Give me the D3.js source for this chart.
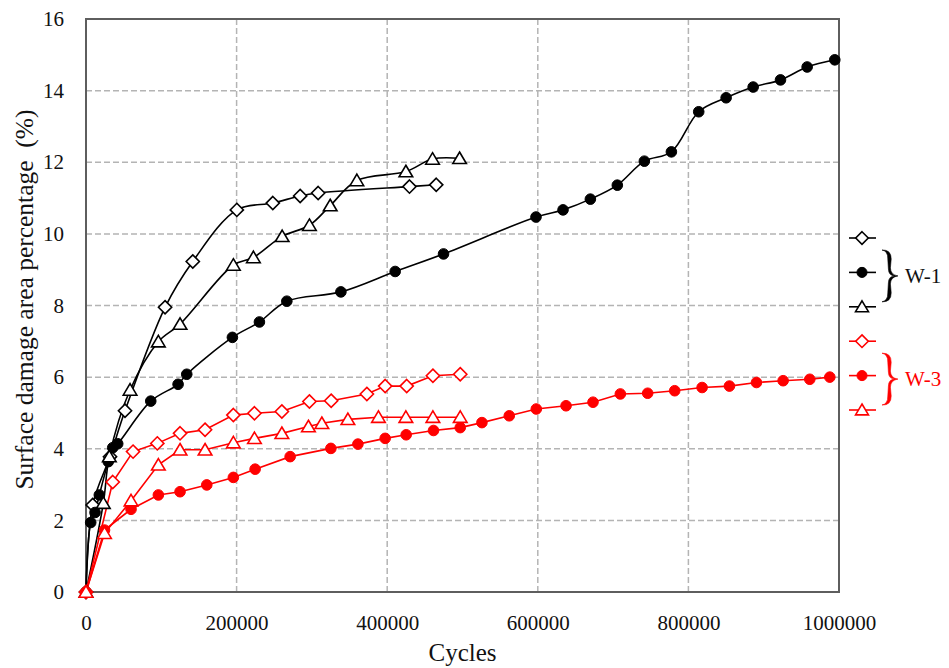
<!DOCTYPE html>
<html><head><meta charset="utf-8">
<script src="https://cdn.jsdelivr.net/npm/d3@7"></script>
<style>body{margin:0;background:#fff}</style>
</head><body><svg id="c" width="949" height="668"></svg>
<script>
// ---- data ----
const xTicks = [0, 200000, 400000, 600000, 800000, 1000000];
const yTicks = [0, 2, 4, 6, 8, 10, 12, 14, 16];
const xTitle = "Cycles";
const yTitle = "Surface damage area percentage  (%)";
const groupLabels = ["W-1", "W-3"];

const w1DiamondCycles = [0, 8900, 31900, 51800, 105000, 141800, 200300, 248100, 284400, 308300, 429600, 465100];
const w1DiamondDamage = [0, 2.43, 3.78, 5.06, 7.95, 9.23, 10.67, 10.86, 11.06, 11.14, 11.32, 11.37];

const w1CircleCycles = [0, 6250, 12000, 17700, 29600, 35500, 42100, 86000, 122300, 133800, 194400, 230300, 266700, 338500, 410600, 474800, 597600, 633500, 669800, 705600, 741500, 777400, 813700, 850100, 886000, 922300, 957700, 994400];
const w1CircleDamage = [0, 1.94, 2.22, 2.71, 3.64, 4.03, 4.14, 5.33, 5.80, 6.08, 7.11, 7.54, 8.12, 8.38, 8.95, 9.44, 10.47, 10.67, 10.97, 11.36, 12.03, 12.29, 13.41, 13.80, 14.10, 14.30, 14.66, 14.86];

const w1TriangleCycles = [0, 23000, 31000, 58500, 96100, 124900, 195700, 222300, 260500, 296700, 324300, 359700, 424800, 460200, 496100];
const w1TriangleDamage = [0, 2.48, 3.78, 5.64, 6.99, 7.48, 9.13, 9.34, 9.93, 10.24, 10.79, 11.49, 11.74, 12.09, 12.11];

const w3DiamondCycles = [0, 35500, 62500, 94700, 124900, 158100, 195700, 223700, 260100, 296700, 325600, 373000, 397300, 425900, 460700, 497000];
const w3DiamondDamage = [0, 3.07, 3.92, 4.15, 4.43, 4.53, 4.94, 4.99, 5.04, 5.32, 5.34, 5.53, 5.75, 5.75, 6.04, 6.08];

const w3CircleCycles = [0, 24600, 59800, 96100, 124900, 160400, 195700, 224600, 271100, 325200, 361100, 397300, 425200, 461500, 497000, 525800, 562100, 598000, 637500, 673300, 709600, 745900, 781800, 818200, 854500, 890400, 925800, 961200, 987800];
const w3CircleDamage = [0, 1.73, 2.31, 2.71, 2.80, 2.99, 3.20, 3.43, 3.78, 4.01, 4.13, 4.29, 4.39, 4.51, 4.59, 4.73, 4.92, 5.11, 5.20, 5.30, 5.53, 5.55, 5.62, 5.71, 5.75, 5.85, 5.90, 5.94, 6.00];

const w3TriangleCycles = [0, 24600, 59800, 96100, 124900, 158100, 195700, 223700, 260100, 295400, 313200, 347800, 388400, 424800, 460700, 497000];
const w3TriangleDamage = [0, 1.64, 2.55, 3.55, 3.97, 3.97, 4.17, 4.29, 4.43, 4.62, 4.71, 4.82, 4.88, 4.88, 4.88, 4.88];

const series = [
  {group: 0, marker: "diamond",  color: "#000000", xs: w1DiamondCycles,  ys: w1DiamondDamage},
  {group: 0, marker: "circle",   color: "#000000", xs: w1CircleCycles,   ys: w1CircleDamage},
  {group: 0, marker: "triangle", color: "#000000", xs: w1TriangleCycles, ys: w1TriangleDamage},
  {group: 1, marker: "diamond",  color: "#ff0000", xs: w3DiamondCycles,  ys: w3DiamondDamage},
  {group: 1, marker: "circle",   color: "#ff0000", xs: w3CircleCycles,   ys: w3CircleDamage},
  {group: 1, marker: "triangle", color: "#ff0000", xs: w3TriangleCycles, ys: w3TriangleDamage}
];
const groupColors = ["#000000", "#ff0000"];

// ---- layout ----
const FONT = "'Liberation Serif', 'Times New Roman', serif";
const svg = d3.select("#c");
const L = 86, R = 839, T = 19, B = 592;
const x = d3.scaleLinear().domain([0, 1000000]).range([L, R]);
const y = d3.scaleLinear().domain([0, 16]).range([B, T]);

svg.append("rect").attr("width", 949).attr("height", 668).attr("fill", "#fff");

// grid
const grid = svg.append("g").attr("stroke", "#b4b4b4").attr("stroke-width", 1.5).attr("stroke-dasharray", "6,3");
grid.selectAll(".h").data(yTicks.filter(v => v > 0 && v < 16)).join("line")
  .attr("x1", L).attr("x2", R).attr("y1", d => y(d)).attr("y2", d => y(d));
grid.selectAll(".v").data(xTicks.filter(v => v > 0 && v < 1000000)).join("line")
  .attr("y1", T).attr("y2", B).attr("x1", d => x(d)).attr("x2", d => x(d));

// axes
const ax = svg.append("g").attr("transform", `translate(${L},0)`)
  .call(d3.axisLeft(y).tickValues(yTicks).tickSize(0).tickPadding(22).tickFormat(d3.format("d")));
const bx = svg.append("g").attr("transform", `translate(0,${B})`)
  .call(d3.axisBottom(x).tickValues(xTicks).tickSize(0).tickPadding(23).tickFormat(d3.format("d")));
[ax, bx].forEach(g => {
  g.select(".domain").remove();
  g.selectAll("text").attr("font-family", FONT).attr("font-size", 21).attr("fill", "#111");
});

// frame
svg.append("rect").attr("x", L).attr("y", T).attr("width", R - L).attr("height", B - T)
  .attr("fill", "none").attr("stroke", "#5e5e5e").attr("stroke-width", 2);

// titles
svg.append("text").attr("x", (L + R) / 2).attr("y", 661).attr("text-anchor", "middle")
  .attr("font-family", FONT).attr("font-size", 25).attr("fill", "#111").text(xTitle);
svg.append("text").attr("transform", `translate(33,${(T + B) / 2 - 6}) rotate(-90)`).attr("text-anchor", "middle")
  .attr("font-family", FONT).attr("font-size", 25.5).attr("fill", "#111").attr("xml:space", "preserve")
  .style("white-space", "pre").text(yTitle);

// markers
function drawMarker(g, type, cx, cy, color, s) {
  if (type === "circle") {
    g.append("circle").attr("cx", cx).attr("cy", cy).attr("r", 5.3 * s).attr("fill", color).attr("stroke", color).attr("stroke-width", 1);
  } else if (type === "diamond") {
    const r = 6.6 * s;
    g.append("path").attr("d", `M${cx},${cy - r}L${cx + r},${cy}L${cx},${cy + r}L${cx - r},${cy}Z`)
      .attr("fill", "#fff").attr("stroke", color).attr("stroke-width", 1.6);
  } else {
    const w = 6.8 * s, h = 11.5 * s;
    g.append("path").attr("d", `M${cx},${cy - h * 0.55}L${cx + w},${cy + h * 0.45}L${cx - w},${cy + h * 0.45}Z`)
      .attr("fill", "#fff").attr("stroke", color).attr("stroke-width", 1.6);
  }
}

const plot = svg.append("g");
series.forEach(s => {
  const pts = s.xs.map((v, i) => [v, s.ys[i]]);
  const line = d3.line().x(d => x(d[0])).y(d => y(d[1]))
    .curve(s.group === 0 ? d3.curveCatmullRom.alpha(0.5) : d3.curveLinear);
  plot.append("path").datum(pts).attr("d", line).attr("fill", "none")
    .attr("stroke", s.color).attr("stroke-width", 1.6);
});
series.forEach(s => {
  const g = plot.append("g");
  s.xs.forEach((v, i) => drawMarker(g, s.marker, x(v), y(s.ys[i]), s.color, 1));
});

// legend
const legY = d3.scaleLinear().domain([0, 5]).range([238, 410]);
const lg = svg.append("g");
series.forEach((s, i) => {
  const cy = legY(i);
  lg.append("line").attr("x1", 849).attr("x2", 876).attr("y1", cy).attr("y2", cy)
    .attr("stroke", s.color).attr("stroke-width", 1.6);
  drawMarker(lg, s.marker, 862, cy, s.color, 0.95);
});
groupLabels.forEach((lab, gi) => {
  const top = legY(gi * 3) + 12, bot = legY(gi * 3 + 2) - 5, mid = (top + bot) / 2;
  const x0 = 882, xm = 890, xt = 898;
  // calligraphic brace: outer and inner edges form a filled shape
  const o = `M${x0},${top} Q${xm + 1.2},${top - 0.5} ${xm + 1.2},${top + 9} L${xm + 0.4},${mid - 8} Q${xm + 0.6},${mid - 1} ${xt},${mid}`
          + ` Q${xm + 0.6},${mid + 1} ${xm + 0.4},${mid + 8} L${xm + 1.2},${bot - 9} Q${xm + 1.2},${bot + 0.5} ${x0},${bot}`
          + ` Q${xm - 2},${bot - 1} ${xm - 2.2},${bot - 9} L${xm - 1.6},${mid + 7} Q${xm - 1.4},${mid} ${xt - 3},${mid}`
          + ` Q${xm - 1.4},${mid} ${xm - 1.6},${mid - 7} L${xm - 2.2},${top + 9} Q${xm - 2},${top + 1} ${x0},${top} Z`;
  lg.append("path").attr("d", o).attr("fill", groupColors[gi]).attr("stroke", groupColors[gi]).attr("stroke-width", 0.6);
  lg.append("text").attr("x", 905).attr("y", mid + 7).attr("font-family", FONT).attr("font-size", 21)
    .attr("fill", groupColors[gi] === "#000000" ? "#111" : groupColors[gi]).text(lab);
});
</script>
</body></html>
